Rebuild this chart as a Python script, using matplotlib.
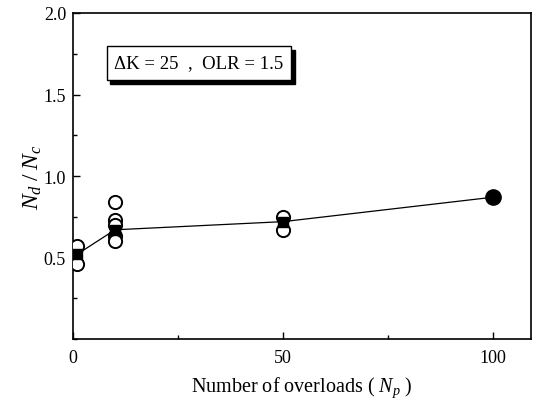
import matplotlib
matplotlib.use("Agg")
import matplotlib.pyplot as plt
from matplotlib.ticker import MultipleLocator
from matplotlib.patches import FancyBboxPatch

plt.rcParams['font.family'] = ['Liberation Serif', 'DejaVu Serif']
plt.rcParams['mathtext.fontset'] = 'custom'
plt.rcParams['mathtext.it'] = 'Liberation Serif:italic'
plt.rcParams['mathtext.rm'] = 'Liberation Serif'

# individual test results (open circles)
x_open = [1, 1, 10, 10, 10, 10, 10, 50, 50]
y_open = [0.57, 0.46, 0.84, 0.73, 0.70, 0.63, 0.60, 0.75, 0.67]
# mean values (filled squares) and line
x_mean = [1, 10, 50, 100]
y_mean = [0.52, 0.67, 0.72, 0.87]

fig = plt.figure(figsize=(5.36, 4.02), dpi=100)
ax = fig.add_axes([73/536, 1-340/402, (531-73)/536, (340-14)/402])

ax.plot(x_mean, y_mean, color='black', lw=0.9, zorder=2)
ax.plot(x_open, y_open, 'o', mfc='white', mec='black', mew=1.4, ms=9.5, zorder=3)
ax.plot(x_mean[:3], y_mean[:3], 's', color='black', ms=7.5, zorder=4)
ax.plot(x_mean[3:], y_mean[3:], 'o', color='black', ms=11, zorder=4)

ax.set_xlim(0, 109)
ax.set_ylim(0, 2.0)
ax.set_xticks([0, 50, 100])
ax.set_yticks([0.5, 1.0, 1.5, 2.0])
ax.xaxis.set_minor_locator(MultipleLocator(25))
ax.yaxis.set_minor_locator(MultipleLocator(0.25))
ax.tick_params(which='both', direction='in', top=False, right=False, labelsize=13)
ax.tick_params(which='major', length=5, width=1)
ax.tick_params(which='minor', length=3, width=1)
ax.tick_params(axis='x', pad=7)
ax.tick_params(axis='y', pad=5)
for s in ax.spines.values():
    s.set_linewidth(1.2)

ax.set_xlabel(r'Number of overloads ( $N_p$ )', fontsize=14.5, labelpad=6)
ax.set_ylabel(r'$N_d\;/\;N_c$', fontsize=17, labelpad=0)

# text box with shadow
shadow = FancyBboxPatch((110/536, 1-85/402), (185)/536, 34/402, boxstyle='square,pad=0',
                        transform=fig.transFigure, fc='black', ec='black', zorder=5)
fig.patches.append(shadow)
box = FancyBboxPatch((107/536, 1-81/402), (184)/536, 34/402, boxstyle='square,pad=0',
                     transform=fig.transFigure, fc='white', ec='black', lw=1, zorder=6)
fig.patches.append(box)
fig.text(199/536, 1-64/402, 'ΔK = 25  ,  OLR = 1.5', ha='center', va='center',
         fontsize=13.5, zorder=7)

fig.savefig('out.png', dpi=100)
